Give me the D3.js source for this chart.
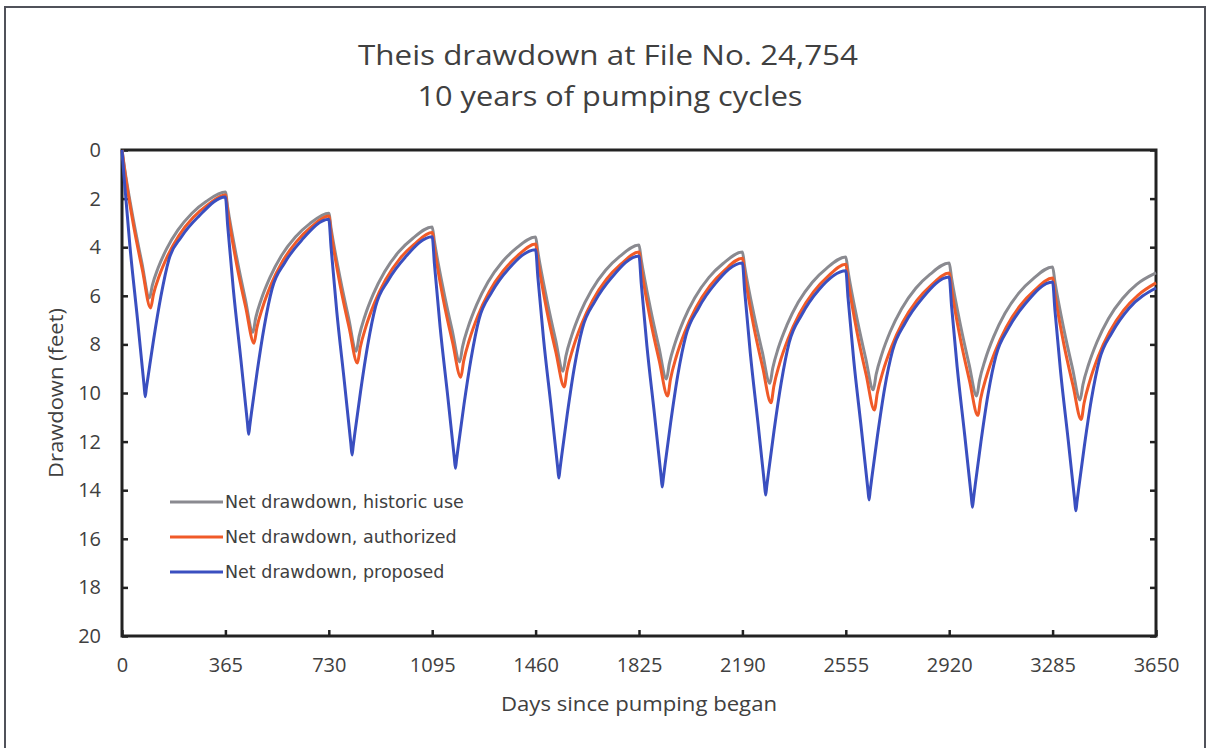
<!DOCTYPE html>
<html>
<head>
<meta charset="utf-8">
<script src="https://cdn.jsdelivr.net/npm/d3@7"></script>
<style>
  body { margin: 0; background: #fff; }
  text { fill: #404040; }
</style>
</head>
<body>
<div id="chart"></div>
<script>
// Theis drawdown at File No. 24,754

const seriesNames = ["Net drawdown, historic use", "Net drawdown, authorized", "Net drawdown, proposed"];
const xTicks = [0, 365, 730, 1095, 1460, 1825, 2190, 2555, 2920, 3285, 3650];
const yTicks = [0, 2, 4, 6, 8, 10, 12, 14, 16, 18, 20];

const historicDays = [0,8,40,70,97,107,127,157,197,247,297,
  365,373,405,435,462,472,492,522,562,612,662,
  730,738,770,800,827,837,857,887,927,977,1027,
  1095,1103,1135,1165,1192,1202,1222,1252,1292,1342,1392,
  1460,1468,1500,1530,1557,1567,1587,1617,1657,1707,1757,
  1825,1833,1865,1895,1922,1932,1952,1982,2022,2072,2122,
  2190,2198,2230,2260,2287,2297,2317,2347,2387,2437,2487,
  2555,2563,2595,2625,2652,2662,2682,2712,2752,2802,2852,
  2920,2928,2960,2990,3017,3027,3047,3077,3117,3167,3217,
  3285,3293,3325,3355,3382,3392,3412,3442,3482,3532,3582,
  3650];
const historicFt = [0,0.67,2.86,4.63,6.09,5.57,4.87,4.08,3.30,2.60,2.12,
  1.73,2.36,4.44,6.12,7.5,6.91,6.13,5.25,4.36,3.58,3.04,
  2.6,3.22,5.27,6.92,8.28,7.67,6.85,5.93,5.01,4.19,3.63,
  3.17,3.78,5.78,7.39,8.72,8.10,7.28,6.36,5.43,4.61,4.04,
  3.58,4.19,6.17,7.78,9.1,8.48,7.65,6.71,5.78,4.95,4.38,
  3.91,4.52,6.50,8.10,9.42,8.79,7.96,7.02,6.08,5.24,4.67,
  4.2,4.79,6.74,8.30,9.6,8.98,8.14,7.21,6.27,5.44,4.87,
  4.4,5.0,6.97,8.56,9.87,9.24,8.41,7.47,6.53,5.69,5.12,
  4.65,5.25,7.22,8.81,10.12,9.48,8.63,7.68,6.72,5.87,5.29,
  4.81,5.41,7.39,8.97,10.29,9.66,8.83,7.89,6.94,6.11,5.53,
  5.06];

const authorizedDays = [0,8,40,72,101,111,131,161,201,251,301,
  365,373,405,437,466,476,496,526,566,616,666,
  730,738,770,802,831,841,861,891,931,981,1031,
  1095,1103,1135,1167,1196,1206,1226,1256,1296,1346,1396,
  1460,1468,1500,1532,1561,1571,1591,1621,1661,1711,1761,
  1825,1833,1865,1897,1926,1936,1956,1986,2026,2076,2126,
  2190,2198,2230,2262,2291,2301,2321,2351,2391,2441,2491,
  2555,2563,2595,2627,2656,2666,2686,2716,2756,2806,2856,
  2920,2928,2960,2992,3021,3031,3051,3081,3121,3171,3221,
  3285,3293,3325,3357,3386,3396,3416,3446,3486,3536,3586,
  3650];
const authorizedFt = [0,0.72,3.06,4.94,6.5,5.94,5.20,4.36,3.52,2.78,2.27,
  1.85,2.52,4.72,6.49,7.95,7.32,6.49,5.54,4.60,3.77,3.19,
  2.72,3.39,5.56,7.32,8.77,8.13,7.27,6.30,5.33,4.47,3.88,
  3.4,4.05,6.20,7.92,9.35,8.69,7.82,6.83,5.84,4.97,4.36,
  3.87,4.52,6.63,8.34,9.75,9.08,8.20,7.20,6.20,5.31,4.70,
  4.2,4.85,6.98,8.70,10.12,9.44,8.53,7.51,6.49,5.58,4.96,
  4.45,5.10,7.25,8.97,10.4,9.72,8.80,7.78,6.75,5.84,5.21,
  4.7,5.36,7.52,9.26,10.7,10.02,9.12,8.11,7.09,6.19,5.57,
  5.06,5.70,7.81,9.51,10.92,10.24,9.34,8.32,7.30,6.40,5.78,
  5.27,5.91,8.01,9.69,11.09,10.42,9.52,8.50,7.49,6.59,5.98,
  5.47];

const proposedDays = [0,8,28,55,78,82,86,92,112,137,165,210,270,
  365,373,393,420,443,447,451,457,477,502,530,575,635,
  730,738,758,785,808,812,816,822,842,867,895,940,1000,
  1095,1103,1123,1150,1173,1177,1181,1187,1207,1232,1260,1305,1365,
  1460,1468,1488,1515,1538,1542,1546,1552,1572,1597,1625,1670,1730,
  1825,1833,1853,1880,1903,1907,1911,1917,1937,1962,1990,2035,2095,
  2190,2198,2218,2245,2268,2272,2276,2282,2302,2327,2355,2400,2460,
  2555,2563,2583,2610,2633,2637,2641,2647,2667,2692,2720,2765,2825,
  2920,2928,2948,2975,2998,3002,3006,3012,3032,3057,3085,3130,3190,
  3285,3293,3313,3340,3363,3367,3371,3377,3397,3422,3450,3495,3555,
  3650];
const proposedFt = [0,1.22,3.96,7.0,9.70,10.15,9.80,9.33,7.77,6.04,4.53,3.57,2.74,
  1.93,3.10,5.74,8.67,11.25,11.7,11.35,10.81,9.13,7.27,5.70,4.63,3.70,
  2.85,4.01,6.63,9.54,12.10,12.55,12.19,11.65,9.95,8.06,6.45,5.36,4.41,
  3.57,4.71,7.29,10.15,12.66,13.1,12.74,12.2,10.49,8.6,6.98,5.86,4.89,
  4.1,5.23,7.77,10.59,13.07,13.5,13.14,12.59,10.85,8.93,7.35,6.22,5.23,
  4.36,5.50,8.07,10.92,13.43,13.87,13.50,12.95,11.2,9.26,7.66,6.51,5.49,
  4.65,5.80,8.37,11.24,13.76,14.2,13.83,13.28,11.52,9.58,7.93,6.77,5.75,
  4.97,6.10,8.65,11.48,13.97,14.4,14.03,13.48,11.74,9.81,8.26,7.11,6.10,
  5.23,6.37,8.92,11.76,14.26,14.7,14.33,13.77,12.01,10.06,8.47,7.32,6.31,
  5.43,6.56,9.10,11.93,14.42,14.85,14.48,13.93,12.19,10.26,8.65,7.51,6.51,
  5.68];

const colors = ["#8a8a90", "#f05a28", "#3a4fc0"];

// build series as arrays of points
var series = [
  historicDays.map(function(d, i) { return {day: d, ft: historicFt[i]}; }),
  authorizedDays.map(function(d, i) { return {day: d, ft: authorizedFt[i]}; }),
  proposedDays.map(function(d, i) { return {day: d, ft: proposedFt[i]}; })
];

var W = 1207, H = 748;
var margin = {top: 150, right: 51, bottom: 112, left: 122},
    width = W - margin.left - margin.right,
    height = H - margin.top - margin.bottom;

var svg = d3.select("#chart")
  .append("svg")
  .attr("width", W)
  .attr("height", H);

// outer frame of the picture
svg.append("rect")
  .attr("x", 5).attr("y", 7)
  .attr("width", 1200).attr("height", 780)
  .attr("fill", "none")
  .attr("stroke", "#50525a")
  .attr("stroke-width", 2);

// titles (the original font is wide, so stretch to its width)
svg.append("text")
  .attr("x", 608).attr("y", 65)
  .attr("text-anchor", "middle")
  .attr("textLength", 500)
  .attr("lengthAdjust", "spacingAndGlyphs")
  .style("font-family", "Open Sans")
  .style("font-size", "28px")
  .text("Theis drawdown at File No. 24,754");
svg.append("text")
  .attr("x", 610).attr("y", 106)
  .attr("text-anchor", "middle")
  .attr("textLength", 385)
  .attr("lengthAdjust", "spacingAndGlyphs")
  .style("font-family", "Open Sans")
  .style("font-size", "28px")
  .text("10 years of pumping cycles");

var g = svg.append("g")
  .attr("transform", "translate(" + margin.left + "," + margin.top + ")");

var x = d3.scaleLinear().domain([0, 3650]).range([0, width]);
var y = d3.scaleLinear().domain([0, 20]).range([0, height]);

// left axis, ticks pointing in
var yAxis = g.append("g")
  .call(d3.axisLeft(y).tickValues(yTicks).tickSizeInner(-6).tickSizeOuter(0).tickPadding(21));
// right side ticks
var yAxisR = g.append("g")
  .attr("transform", "translate(" + width + ",0)")
  .call(d3.axisLeft(y).tickValues(yTicks).tickSizeInner(6).tickSizeOuter(0).tickFormat(""));
// bottom axis
var xAxis = g.append("g")
  .attr("transform", "translate(0," + height + ")")
  .call(d3.axisBottom(x).tickValues(xTicks).tickFormat(d3.format("d"))
    .tickSizeInner(-6).tickSizeOuter(0).tickPadding(22));

[yAxis, yAxisR, xAxis].forEach(function(a) {
  a.select(".domain").remove();
  a.selectAll(".tick line").attr("stroke", "#222").attr("stroke-width", 2.5);
  a.selectAll("text")
    .style("font-family", "Open Sans")
    .style("font-size", "20px")
    .attr("fill", "#404040");
});

// plot frame
g.append("rect")
  .attr("width", width).attr("height", height)
  .attr("fill", "none")
  .attr("stroke", "#222")
  .attr("stroke-width", 3);

// axis titles
svg.append("text")
  .attr("x", margin.left + width / 2).attr("y", 711)
  .attr("text-anchor", "middle")
  .attr("textLength", 276)
  .attr("lengthAdjust", "spacingAndGlyphs")
  .style("font-family", "Open Sans")
  .style("font-size", "20px")
  .text("Days since pumping began");
svg.append("text")
  .attr("transform", "translate(63," + (margin.top + height / 2) + ")rotate(-90)")
  .attr("text-anchor", "middle")
  .attr("textLength", 170)
  .attr("lengthAdjust", "spacingAndGlyphs")
  .style("font-family", "Open Sans")
  .style("font-size", "20px")
  .text("Drawdown (feet)");

// the three drawdown lines
var line = d3.line()
  .x(function(d) { return x(d.day); })
  .y(function(d) { return y(d.ft); })
  .curve(d3.curveMonotoneX);

g.selectAll("path.dd")
  .data(series)
  .enter()
  .append("path")
    .attr("class", "dd")
    .attr("d", line)
    .attr("fill", "none")
    .attr("stroke", function(d, i) { return colors[i]; })
    .attr("stroke-width", 3)
    .attr("stroke-linejoin", "round");

// legend
var legend = svg.append("g").attr("transform", "translate(170,502)");
seriesNames.forEach(function(name, i) {
  var row = legend.append("g").attr("transform", "translate(0," + (i * 35) + ")");
  row.append("line")
    .attr("x1", 0).attr("x2", 53)
    .attr("stroke", colors[i])
    .attr("stroke-width", 3);
  row.append("text")
    .attr("x", 55).attr("y", 6)
    .style("font-family", "DejaVu Sans")
    .style("font-size", "17.5px")
    .text(name);
});
</script>
</body>
</html>
